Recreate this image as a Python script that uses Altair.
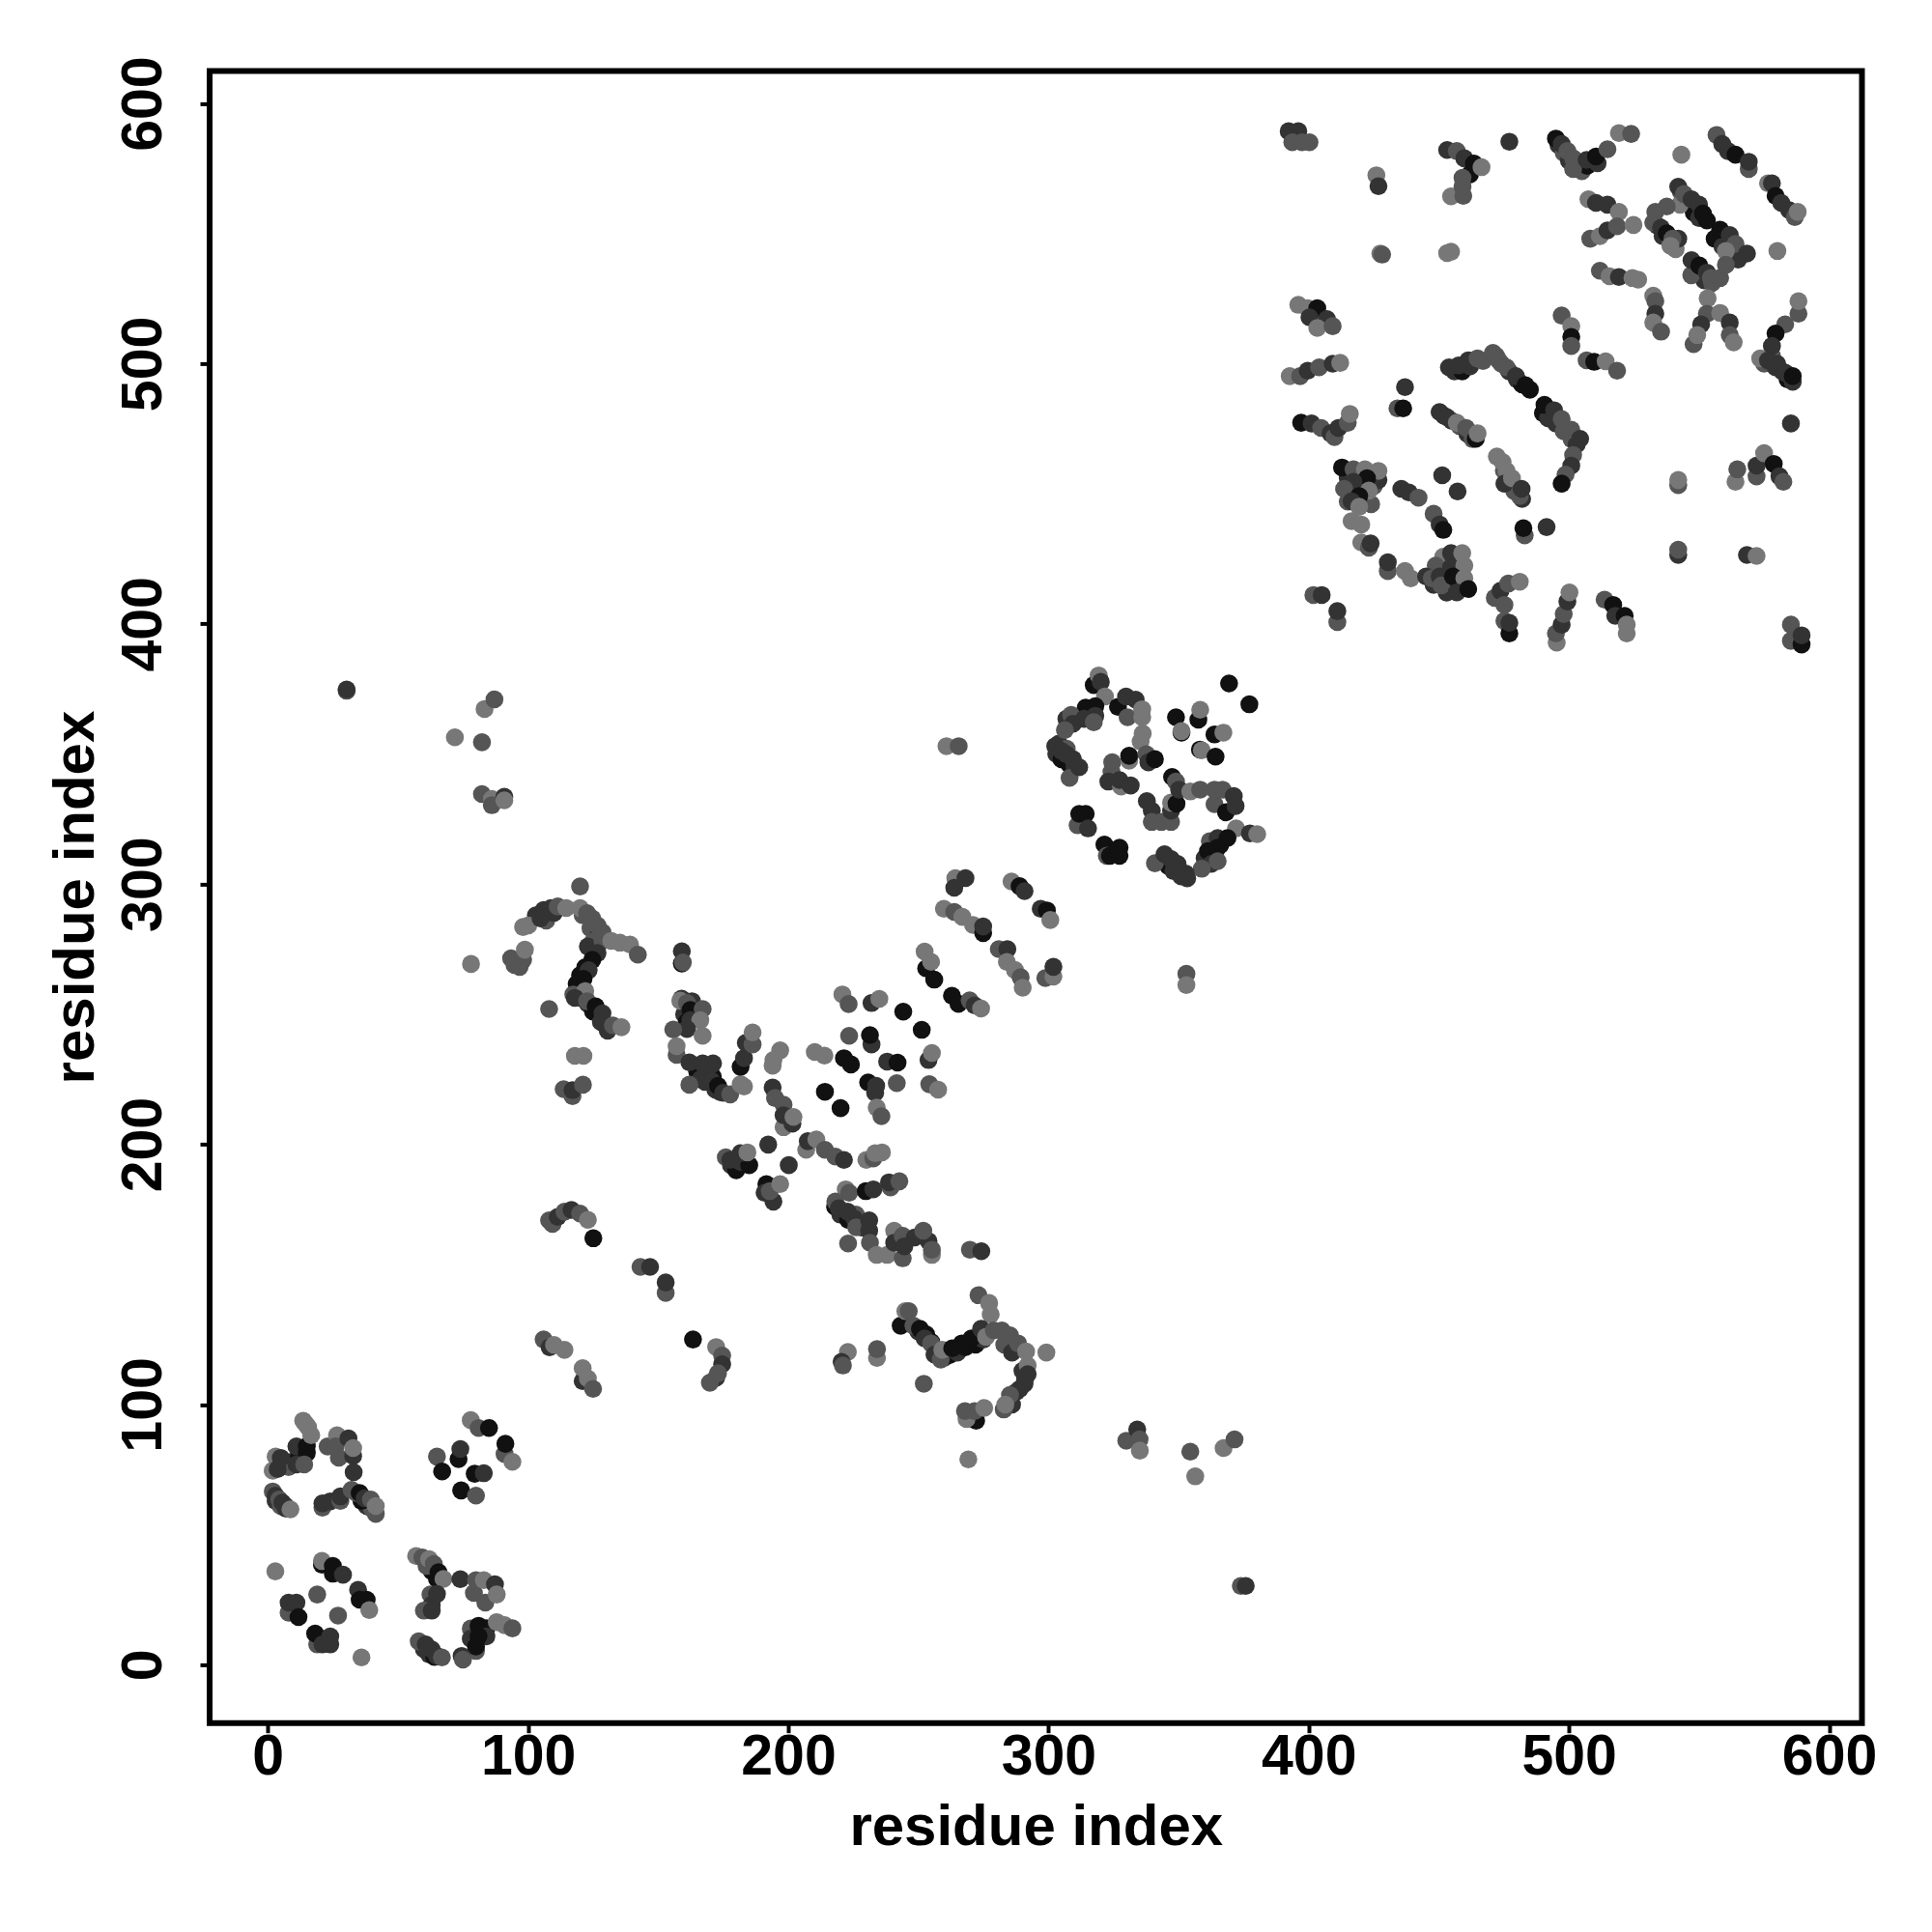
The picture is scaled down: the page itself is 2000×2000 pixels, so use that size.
import altair as alt
import pandas as pd

ticks = [0, 100, 200, 300, 400, 500, 600]
axis_title = "residue index"

cluster_under = [(496,584,"D"),(498,581,"M"),(500,578,"D"),(503,575,"M"),(505,574,"M"),(507,576,"B"),(511,577,"D"),
(543,566,"M"),(545,563,"D"),(548,558,"B"),(550,556,"D"),(553,555,"B"),(534,553,"D"),(536,549,"D"),(539,546,"M"),(541,544,"L"),(542,548,"D"),(556,548,"B"),(559,545,"D"),(562,542,"M"),(565,540,"D"),(549,536,"D"),(552,532,"D"),(555,531,"M"),(547,534,"M"),
(456,497,"D"),(459,497,"B"),(462,499,"D"),(467,501,"M"),(472,503,"M"),(474,500,"M"),(477,497,"D"),(480,494,"D"),(482,492,"B"),(485,490,"B"),(490,481,"B"),(492,479,"D"),(495,477,"D"),(498,474,"M"),(501,471,"M"),(503,469,"D"),
(452,480,"D"),(455,478,"D"),(458,476,"M"),(461,473,"D"),(463,471,"M"),(475,459,"M"),(477,455,"L"),(479,451,"M"),(482,448,"D"),
(578,503,"M"),(580,500,"D"),(582,497,"D"),(584,494,"B"),(586,493,"D"),(575,500,"M"),
(415,456,"D"),(418,452,"D"),(421,448,"D"),(415,447,"M"),(424,446,"M"),(425,453,"M"),(419,452,"B"),
(450,420,"D"),(453,423,"M"),(457,425,"L"),(456,415,"D"),(459,414,"M"),(453,412,"D"),(448,415,"D"),(458,420,"L"),(452,417,"B"),
(250,128,"D"),(253,127,"B"),(255,124,"B"),(257,121,"B"),(260,118,"D"),(262,119,"B"),(265,120,"D"),(268,122,"B"),(272,123,"B"),(275,125,"D"),(283,123,"M"),(286,120,"D"),(290,113,"D"),(291,110,"D"),(289,106,"D"),(286,100,"D"),
(103,288,"D"),(105,287,"D"),(106,290,"D"),(107,286,"M"),(110,289,"D"),(121,288,"M"),(124,283,"M"),(127,280,"D"),(125,278,"M"),(123,276,"D"),(122,268,"B"),(120,265,"B"),(119,258,"D"),(121,256,"B"),(123,254,"D"),(125,251,"B"),(128,247,"D"),
(165,228,"B"),(168,224,"D"),(171,226,"B"),(174,220,"D"),(172,221,"D"),(160,250,"D"),(161,247,"B"),(163,255,"D"),(159,256,"D"),
(303,350,"D"),(305,348,"B"),(308,346,"B"),(310,345,"D"),(304,354,"D"),(307,352,"M"),
(178,192,"D"),(180,190,"B"),(183,194,"D"),(176,195,"M"),
(218,176,"B"),(220,173,"D"),(223,171,"B"),(226,173,"M"),(228,168,"D"),
(60,6,"D"),(62,4,"D"),(64,3,"B"),(3,63,"D"),(5,61,"M"),(7,60,"D"),
(63,36,"B"),(65,33,"B"),(61,38,"M"),(38,61,"D"),(40,60,"M"),(36,63,"B"),(34,66,"M"),
(9,78,"D"),(12,80,"B"),(13,83,"B"),(8,76,"M"),
(346,307,"B"),(348,305,"D"),(351,303,"D"),(364,312,"B"),(366,315,"B"),(360,310,"D")]
cluster_a = [(1.9,74.6,"L"),(3,80,"L"),(5,79.5,"D"),(3.8,75.2,"D"),(11,83.9,"D"),(15,84,"B"),(15,81.4,"B"),(11,77,"D"),(14,77,"M"),
(13.6,93.8,"L"),(14.6,92.5,"L"),(15.5,91.3,"L"),(16.7,88.2,"L"),
(1.9,66.6,"M"),(3,65,"D"),(4.4,63.5,"M"),(5.6,62.3,"D"),(6.8,61,"D"),(8.7,59.7,"L"),
(23,83.9,"M"),(26.6,88.2,"L"),(26,83.9,"M"),(27.3,79.6,"M"),(31,87,"D"),(32.8,80.2,"D"),(32.8,83.3,"L"),(33,74,"D"),
(21,60.4,"M"),(21,62,"D"),(24,62.8,"D"),(27.9,63,"M"),(27.9,64.7,"D"),(32.2,67.2,"M"),(35.3,66,"B"),(37.2,64,"D"),(39.6,63.5,"M"),(41.5,58,"M"),(41.5,61,"L")]
cluster_b = [(78,94,"L"),(81,91,"M"),(85,91,"B"),(91,81,"M"),(91.3,84.9,"B"),(94,78,"L"),(73.3,79,"B"),(74,82.9,"D"),(65,80,"M"),(67,74.3,"B"),(79.5,73.4,"B"),(83,73.6,"D"),(74.3,67,"B"),(80,65,"M")]
cluster_c = [(2.9,35.9,"L"),(20.8,38.5,"B"),(20.8,39.9,"L"),(25,38,"B"),(25,35,"B"),(28.9,34.6,"D"),(19,27,"M"),(34.7,28.8,"D"),(35.3,25,"B"),(38,25,"B"),(39,21,"L"),(27,18.9,"M"),
(8,20,"M"),(8,23.9,"D"),(11,23.9,"D"),(11.8,18.3,"B"),(19,7.8,"M"),(18.2,12,"B"),(21,7.8,"D"),(24,10.9,"D"),(24,7.8,"D"),(36,2.8,"L")]
cluster_d = [(57,41.8,"L"),(59.4,41.2,"M"),(62,40.6,"L"),(63.8,38.7,"M"),(65.6,35.6,"B"),(67.5,33,"L"),(74,32.9,"D"),(79.2,27.6,"M"),(80,32.5,"M"),(83,32.5,"L"),(83.6,23.9,"M"),(87.3,30.9,"D"),(88,27,"L"),
(62.5,27,"M"),(63,23,"D"),(65,27.2,"D"),(60,20.8,"M"),(63,20.8,"D"),
(58,9,"M"),(60.7,7.8,"D"),(63,5.9,"D"),(65,3.4,"D"),(66.9,2.8,"M"),
(78,13.9,"M"),(78,10,"D"),(81,15,"B"),(84,14,"B"),(84,10.9,"D"),(81,11,"B"),(80,5.3,"M"),(80,7,"B"),(74.5,3.4,"D"),(75,2,"M"),(88,16.4,"L"),(91,15.2,"L"),(94,14,"M")]
cluster_e = [(106,125,"M"),(108.3,122,"D"),(110,122.9,"L"),(114,121,"L"),(121,109,"D"),(121,114,"L"),(123,110,"L"),(125,106,"M"),(163.4,125,"B"),
(143.2,152.9,"M"),(146.9,152.9,"D"),(152.9,142.9,"M"),(152.9,146.9,"D"),
(108.1,170.8,"M"),(109.4,169.4,"M"),(111.4,172.1,"D"),(114,174.1,"M"),(116.7,174.8,"D"),(120,173.4,"M"),(123,171,"L"),(125.1,163.9,"B"),
(172.3,122.1,"L"),(174.6,118.8,"M"),(174.6,115.5,"D"),(172.3,110.3,"D"),(169.9,108.4,"M"),(173,112,"M")]
cluster_f = [(120,299.1,"M"),(98.1,283.5,"L"),(100.1,284.1,"L"),(104.8,286.8,"D"),(106.8,288.8,"D"),(108.8,290.8,"D"),(111.4,291.4,"M"),(114.7,290.8,"L"),(120,290.8,"L"),(122.7,288.8,"M"),(124.7,286.8,"M"),(126.7,284.1,"M"),(128.6,281.5,"M"),(128.6,278.2,"M"),(132,278.2,"L"),(135.3,277.5,"L"),(139.2,276.8,"L"),(142.2,272.9,"M"),
(93.5,271.5,"M"),(94.8,268.9,"M"),(96.8,268.2,"M"),(98.1,270.9,"M"),(98.8,274.8,"L"),
(126.7,273.5,"D"),(124.7,270.9,"B"),(123.3,266.9,"D"),(121.3,263.6,"B"),(118.7,261.6,"B"),(117.4,257.6,"M"),(122,258.9,"L"),(118,256.3,"D"),(122.7,255,"M"),(126,253,"B"),(128.6,250.3,"D"),(130.6,243.7,"D"),(132.6,245.7,"M"),(135.9,245,"L"),
(108.1,252,"M"),(118,234,"L"),(121.3,234,"L"),(113.7,221.2,"M"),(117.1,218.5,"M"),(117.1,220.8,"D"),(121.1,222.9,"M")]
cluster_g = [(159.1,274.2,"D"),(159.1,269.5,"B"),(159.5,269.9,"M"),(158.5,255.2,"L"),(161.1,254.3,"M"),(162.4,251.6,"B"),(167.1,252,"M"),(162.4,247.7,"D"),(166.2,247.7,"L"),(161.1,244.3,"D"),(167.1,241.7,"L"),(155.8,244.1,"M"),(157.1,234.4,"M"),(157.1,237.7,"L"),(162,231.5,"D"),(167.1,231.1,"D"),(171.1,231.1,"D"),(167.7,225.8,"D"),(166.4,225.1,"D"),(170.4,224.5,"D"),(173,222.5,"B"),(175,219.8,"D"),(177.7,219.2,"M"),(162,222.9,"M"),(181.7,223.1,"L"),(183,222.2,"L"),
(181.7,229.8,"B"),(183,233.1,"D"),(183.7,239,"D"),(186.3,238.4,"M"),(186.3,243,"L"),
(194.3,232.4,"L"),(194,230.2,"L"),(196.9,236.1,"L"),(194,221.8,"D"),(194.9,217.8,"M"),(198.2,215.2,"M"),(198.2,206.6,"L"),(198.2,211.2,"D"),(201.6,207.9,"D"),(202,210.5,"L"),
(192.3,199.9,"D"),(200.2,192,"D"),(206.9,197.9,"L"),(207.5,201.2,"D"),(210.8,201.9,"L"),(214.1,197.9,"M"),(218.1,195.3,"M"),(221.4,194,"D"),
(177.7,194,"D"),(181.7,193.3,"D"),(185,192,"B"),(181.7,196.6,"D"),(184.3,196.9,"L"),
(191.6,184.7,"B"),(190.9,181.4,"D"),(194.3,178,"D"),(192.9,182,"M"),(196.9,184.7,"L")]
cluster_h = [(220.8,257.6,"L"),(223.2,253.9,"M"),(232,254.3,"D"),(235,255.9,"L"),(244.2,251,"B"),(251.3,244,"B"),
(223.4,241.7,"M"),(232,238.4,"D"),(231.4,242,"B"),(210.2,235.5,"L"),(213.9,234.1,"L"),(221.4,233.1,"B"),(224.1,230.7,"B"),(238,231.8,"D"),(242,231.4,"B"),
(253.9,232.4,"D"),(255.2,235.1,"L"),(214.1,220.2,"B"),(220.1,213.9,"B"),(230.7,223.8,"B"),(233.4,219.8,"D"),(233.8,222.5,"D"),(241.7,223.5,"M"),(254.2,223.1,"M"),(257.6,221,"L"),
(234,214.1,"L"),(235.8,210.8,"M"),(230,194,"L"),(232.7,194.6,"M"),(233.4,196.6,"L"),(236,196.9,"L"),
(222.1,182.7,"L"),(223.4,181.4,"M"),(229.8,182,"B"),(232.7,182.7,"D"),(239.3,183.4,"M"),(238.7,185.4,"D"),(242.7,185.8,"M"),
(218.1,178,"M"),(219.4,175.4,"D"),(222.8,174.1,"D"),(225.4,171.4,"D"),(226.1,168.1,"M"),(231.1,170.8,"D"),(231.1,166.8,"D"),(231.4,162.2,"M"),(223,161.9,"M"),
(234,157.5,"L"),(238,157.5,"L"),(244,156.2,"M"),(240.7,166.8,"L"),(240.7,162.2,"D"),(244,164.8,"M"),(244.6,160.8,"D"),(248.6,164.2,"D"),(253.9,162.8,"D"),(251.9,166.8,"M"),(255.2,157.5,"L"),(255.2,159.5,"M"),
(269.8,159.5,"M"),(274.2,158.9,"D")]
cluster_i = [(273.1,142,"M"),(277.2,139,"L"),(277.8,134.6,"L"),(243.2,130.3,"B"),(245,135.9,"L"),(246.3,135.9,"M"),(248.1,130.3,"M"),(250.6,129.1,"B"),(252.4,125.4,"D"),(254.9,123.5,"M"),(256.2,119.2,"D"),(258.6,117.3,"M"),(259.2,121,"L"),(263,121.6,"B"),(266.7,123.5,"B"),(270.4,125.4,"B"),(274.1,129.1,"D"),(276,126,"L"),(279,128.5,"M"),(282.1,128.5,"M"),(285.2,126.6,"M"),(288.3,123.5,"M"),(291.4,120.4,"L"),(299.2,120,"L"),
(292,115,"L"),(292,111.7,"D"),(290.8,108,"D"),(287.7,104.9,"D"),(285.2,103.7,"M"),(282.8,98.1,"M"),(283.4,100,"L"),(272.2,93.8,"B"),(268.5,94.4,"L"),(267.9,97.5,"M"),(271.6,97.5,"M"),(275.3,98.7,"L"),
(252.1,108,"M"),(234.1,117.9,"L"),(234.1,121.3,"M"),(222.9,120.2,"L"),(220.5,116.4,"D"),(221,115,"M"),(269.2,78.9,"L"),
(373.9,30.3,"M"),(375.8,30.3,"D"),(329.9,86.1,"M"),(334.1,90.4,"D"),(335,86.6,"M"),(335.1,82.3,"L"),(354.5,81.9,"M"),(356.4,72.4,"L"),(367.3,83.3,"L"),(371.5,86.6,"M")]
cluster_j = [(30.3,374.3,"M"),(30.3,374.8,"D"),(71.9,356.4,"L"),(82.3,354.5,"M"),(83.3,367.3,"L"),(87.1,371,"M"),(82.3,334.6,"M"),(86.1,332.7,"L"),(86.1,330.3,"M"),(90.9,333.6,"D"),(90.9,332.2,"L"),(78.1,269.3,"L"),
(353,265.5,"M"),(353,261.2,"L"),(260.8,353,"L"),(265.5,353,"M")]
cluster_k = [(264.2,302.3,"L"),(263.8,298.6,"D"),(268.1,302.3,"D"),(259.8,290.5,"L"),(263.8,289.3,"M"),(266.9,287.4,"L"),(271,284.3,"L"),(274.9,281.2,"B"),(274.9,283.7,"D"),
(252.4,274.1,"L"),(253,267.6,"B"),(254.9,270.1,"L"),(256.1,263.3,"B"),(262.9,257.1,"B"),(265.4,254,"B"),(269.7,255.3,"M"),(271.6,253.4,"D"),(274.1,252.2,"L"),
(285.8,301,"L"),(288.9,299.2,"B"),(290.8,297.3,"D"),(297,290.5,"D"),(299.4,289.9,"B"),(300.7,286.2,"L"),
(280.9,275,"M"),(284.2,275,"D"),(284,270.1,"L"),(287.1,267,"L"),(289.3,264.2,"M"),(290.1,260.2,"L"),(298.8,263.9,"M"),(301.9,264.5,"L"),(301.9,268.2,"D")]
cluster_l = [(317.4,376.5,"B"),(319.3,380.2,"L"),(320.1,377.7,"D"),(321.7,372.1,"L"),(314.3,367.8,"B"),(318,368.4,"B"),(306.9,363.5,"D"),(308.7,365,"M"),(313.7,363.5,"D"),(318,364.7,"D"),(317.4,362.2,"M"),(309.4,361.6,"D"),(306.3,359.2,"M"),
(302.6,353,"D"),(305,351.1,"D"),(306.9,349.9,"D"),(308.1,340.8,"M"),(309.4,348,"D"),(311.8,344.9,"D"),
(326.7,368.1,"B"),(330.4,364.1,"M"),(329.8,372.1,"D"),(333.5,370.9,"D"),(336,367.2,"L"),(336,364.1,"L"),(335.4,354.8,"L"),(336.2,357.9,"L"),
(349,364.1,"B"),(357.6,363.2,"B"),(358.3,367,"L"),(351.1,358.2,"B"),(351.1,358.8,"L"),(369.4,377.1,"B"),(377.2,369.1,"B"),(363.8,357.5,"B"),(367.2,358.2,"L"),(358.2,351.7,"B"),(358.9,351.4,"L"),(364.2,349,"B"),
(324.5,346.8,"M"),(324.2,343.1,"M"),(331,347.4,"L"),(331,349.3,"B"),(337.6,349.9,"M"),(338.4,346.8,"D"),(340.9,348,"B"),
(323,339.4,"D"),(327.9,337.5,"L"),(327.3,340,"D"),(331.6,337.9,"D"),
(337.8,331.9,"D"),(339.7,328.2,"D"),(339.7,323.9,"M"),(343.4,323.9,"M"),(347.1,323.9,"M"),(347.1,328.2,"D"),(347.1,331.3,"L"),(349.2,330.9,"B"),
(347.5,341.2,"B"),(349,339.4,"M"),(350.2,336.3,"D"),(354.5,335.6,"L"),(358.3,336.3,"M"),
(363.8,330.7,"M"),(363.8,336.3,"M"),(366.9,336.3,"M"),(368.2,327.6,"B"),(371.2,333.8,"D"),(371.9,330,"D"),
(372.1,321.4,"L"),(377.4,319.5,"D"),(380.2,319.2,"L"),(362,316.5,"M"),(365,317.7,"D"),(368.8,317.7,"B"),(361.3,312.7,"B"),(365,314,"B"),(362.6,307.8,"D"),(365,308.8,"M"),(358.9,305.9,"M"),
(340.9,308,"M"),(344.6,311.5,"D"),(347.1,309.6,"D"),(349.6,307.8,"D"),(352.7,304.1,"D"),(353.3,302.2,"D"),
(311.2,322.6,"M"),(311.8,327,"B"),(314.3,327,"B"),(315.2,321.4,"D"),(321.5,315.2,"B"),(322.4,310.9,"M"),(323.6,310.9,"B"),(327.3,314,"B"),(327.3,310.9,"B")]
cluster_m = [(392.3,589.3,"D"),(396,589.3,"D"),(393.7,585.1,"M"),(397.4,585.1,"M"),(400.3,585.1,"M"),(426,572.4,"L"),(426.8,568.2,"D"),(427.5,542.3,"L"),(428.2,541.9,"M"),
(453.2,582.1,"D"),(456.9,581.7,"M"),(459.8,578.9,"D"),(463.5,576.9,"B"),(462,572.8,"B"),(466.4,575.5,"L"),(459.1,571.4,"M"),(454.7,564.3,"L"),(459.4,564.5,"M"),(459.1,568,"M"),(477.1,585.3,"D"),(453.2,542.5,"L"),(454.7,543,"L"),
(495,586.5,"B"),(497.2,584.4,"D"),(499.4,581.7,"M"),(501.6,578.9,"M"),(501.6,574.8,"M"),(506.8,578.3,"D"),(510.4,579.6,"B"),(514.8,582.4,"M"),(519.2,588.6,"L"),(523.9,588.3,"M"),
(543.2,580.3,"L"),(556.7,587.9,"M"),(558.9,584.4,"D"),(561.1,581.7,"D"),(564,580.3,"B"),(569.1,574.8,"M"),(569.1,577.6,"D"),(576.5,569.3,"L"),(578,569.3,"D"),(579.4,564.5,"B"),(581.6,561.8,"D"),(584.6,559,"D"),(586.8,556.3,"M"),(587.9,558.3,"L"),
(507.5,563.2,"L"),(510.4,561.8,"D"),(514.8,561.1,"D"),(519.2,558.3,"L"),(508.2,548,"M"),(511.9,549,"L"),(514.8,551.2,"D"),(518.5,552.8,"M"),(524.8,553.3,"L"),
(542.7,561.1,"L"),(542,568,"D"),(544.2,565.2,"M"),(547.1,563.2,"D"),(550,561.1,"D"),(551.5,557.7,"B"),(537.6,560.4,"M"),(533.2,558.3,"M"),(532.4,554.2,"M"),(535.4,552.2,"D"),(537.6,550.1,"B"),(539.8,548,"M"),(539,545.3,"L"),
(558.1,551.5,"B"),(561.8,549.4,"D"),(564,546,"M"),(560.3,543.3,"L"),(568.4,542.3,"D"),(580.1,543.3,"L"),
(547.1,539.8,"D"),(550.1,537.7,"B"),(553,535,"D"),(554.5,532.9,"M"),(558.1,532.9,"M"),(560.3,538,"M"),
(511.9,535.7,"M"),(515.6,533.6,"L"),(519.2,533.3,"D"),(524.4,532.9,"L"),(526.6,532.3,"L"),
(532.4,526.1,"L"),(533.2,524,"M"),(533.2,519.2,"D"),(532.4,515.8,"L"),(535.4,512.3,"M"),
(553.3,525.1,"L"),(553,519.2,"M"),(550.8,515.1,"D"),(547.9,507.5,"M"),(549.3,511,"L"),(558.1,519.5,"L"),(561.8,515.8,"D"),(561.8,511,"M"),(563.3,508.2,"L"),
(588.2,519.2,"M"),(588.2,524,"L"),(583.1,515.1,"M"),(579.4,511.6,"B"),(578,506.8,"D"),(573.5,502,"L"),(576.5,501.3,"D"),(579.4,498.6,"D"),(583.1,496.5,"D"),(586,495.2,"B"),(585.3,477,"D")]
cluster_n = [(396,522.6,"L"),(399.6,521.3,"L"),(403.3,521.3,"B"),(400.3,517.8,"D"),(407,517.1,"D"),(403.3,513.7,"L"),(409.2,514.4,"M"),
(497.2,518.5,"M"),(500.9,514.4,"L"),(500.9,510.3,"B"),(500.9,506.8,"M"),(506.8,501.3,"M"),(509.7,500.7,"B"),(514.1,500.9,"L"),(518.5,497.3,"M"),
(392.7,495.2,"L"),(396.7,495.2,"M"),(399.6,497.3,"D"),(404,498.6,"M"),(409.2,500,"D"),(412.1,500.3,"L"),
(453.9,498.6,"D"),(457.6,499.3,"D"),(461.3,501.3,"D"),(464.9,502,"M"),(470.8,504.1,"M"),(473,501.3,"M"),(476,498.6,"M"),(479.6,495.2,"D"),(483.3,491.7,"B"),
(437,491,"D"),(434.1,482.8,"M"),(436.3,482.8,"B"),
(397.1,477.3,"B"),(401.1,477,"D"),(404.8,475.3,"M"),(408.4,473.2,"D"),(409.9,471.8,"M"),(411.4,475.3,"D"),(415,477.3,"M"),(415.8,480.7,"L"),
(450.3,481.4,"D"),(453.2,479.4,"D"),(456.9,477.3,"L"),(460.5,475.3,"M"),(464.2,471.1,"B"),(464.9,473.2,"L"),
(490.6,484.2,"B"),(494.3,482.1,"D"),(497.2,478.7,"M"),(500.9,474.6,"M"),(504.3,471.1,"D"),(501.6,464.9,"M"),(500.9,460.8,"D"),(498.7,457.4,"M"),(497.2,453.9,"B"),
(472.3,464.3,"L"),(474.5,462.2,"L"),(476,458.8,"L"),(475.2,453.9,"D"),(478.1,456,"L"),(481.1,449.1,"M"),(481.8,451.9,"D"),
(451.3,457.1,"D"),(457.2,450.9,"D")]
cluster_o = [(412.8,460.1,"B"),(417.2,459.4,"M"),(421.6,459.4,"L"),(426.8,455.3,"D"),(426.8,458.8,"L"),(422.4,456,"B"),(417.2,454.6,"D"),(413.6,451.9,"M"),(423.1,451.2,"L"),(419.4,449.1,"B"),(416.5,447.1,"D"),(419.4,445,"L"),
(416.5,439.5,"L"),(420.2,438.2,"L"),(420.2,431.3,"L"),(423.1,429.3,"M"),(423.8,430.9,"D"),(430.4,420.3,"M"),(430.4,423.7,"D"),(437,420.3,"L"),(439.2,417.5,"L"),
(435.6,451.9,"D"),(438.5,450.5,"D"),(442.2,448.5,"M"),(448,442.3,"M"),(450.3,438.2,"D"),(451.7,436.1,"B"),
(483,434,"M"),(482.5,436.8,"B"),(491.4,437.2,"D"),
(542,453.3,"M"),(542,455.3,"L"),(542,426.5,"D"),(542,428.5,"M"),(568.4,426.5,"D"),(572.1,426.1,"L"),
(564,454.6,"L"),(564.7,459.4,"M"),(572.1,456.7,"M"),(572.1,460.8,"D"),(575,465.6,"L"),(578.7,461.5,"B"),(580.9,456.7,"D"),(582.4,454.6,"M"),
(451.7,425.8,"L"),(454.7,427.2,"D"),(459,427.2,"L"),(448.8,422.4,"M"),(454.7,421.7,"D"),(459.8,422.4,"L"),(445.1,418.2,"D"),(447.3,417.5,"M"),(450.3,418.2,"D"),(451,414.8,"M"),(455.4,418.2,"B"),(459.8,417.5,"L"),(456.9,412.1,"D"),(461.3,413.4,"B"),
(401.8,411.1,"M"),(405,411.1,"D"),(411,400.7,"M"),(411,404.9,"D"),
(471.5,410,"M"),(473.7,412.7,"D"),(476.7,415.5,"M"),(481.1,416.2,"L"),(475.2,407.3,"M"),(475.2,401.1,"M"),(477.1,396.3,"B"),(477.1,400.4,"D"),
(495.3,392.8,"L"),(495,396.3,"M"),(497.2,399.7,"D"),(498,403.8,"M"),(499.4,408.6,"D"),(500.2,412.1,"L"),
(513.7,409.3,"M"),(517,407.3,"B"),(517.8,403.1,"D"),(521.4,403.1,"B"),(522.2,396.3,"L"),(522.2,399.7,"L"),
(585.3,393.5,"M"),(585.3,399.7,"M"),(589.4,392.1,"B"),(589.4,395.6,"D")]

clusters = [cluster_under, cluster_a, cluster_b, cluster_c, cluster_d, cluster_e, cluster_f, cluster_g, cluster_h,
            cluster_i, cluster_j, cluster_k, cluster_l, cluster_m, cluster_n, cluster_o]
rows = [{"x": p[0], "y": p[1], "s": p[2]} for c in clusters for p in c]
df = pd.DataFrame(rows)

FONT = "Liberation Sans"
def axis(**kw):
    return alt.Axis(values=ticks, title=axis_title, grid=False, domain=False, ticks=True, tickSize=10, tickWidth=4,
                    tickColor="black", labelColor="black", titleColor="black", labelFont=FONT, titleFont=FONT,
                    labelFontSize=59, titleFontSize=60, labelFontWeight="bold", titleFontWeight="bold",
                    labelOverlap=False, labelFlush=False, **kw)

chart = alt.Chart(df).mark_circle(size=345, opacity=1, stroke=None).encode(
    x=alt.X("x:Q", scale=alt.Scale(domain=[-22.35, 612.6], nice=False, zero=False),
            axis=axis(labelPadding=-4, titlePadding=14)),
    y=alt.Y("y:Q", scale=alt.Scale(domain=[-22.4, 612.5], nice=False, zero=False),
            axis=axis(labelAngle=270, labelAlign="center", labelBaseline="bottom", labelPadding=29, titlePadding=10)),
    color=alt.Color("s:N", scale=alt.Scale(domain=["L", "M", "D", "B"], range=["#777777", "#555555", "#333333", "#111111"]), legend=None),
).properties(width=1710.5, height=1710.3, padding={"left": 40, "top": 49.4, "right": 20, "bottom": 14}
).configure_view(stroke="black", strokeWidth=6)

chart.save("out.html", embed_options={"renderer": "svg", "actions": False})
